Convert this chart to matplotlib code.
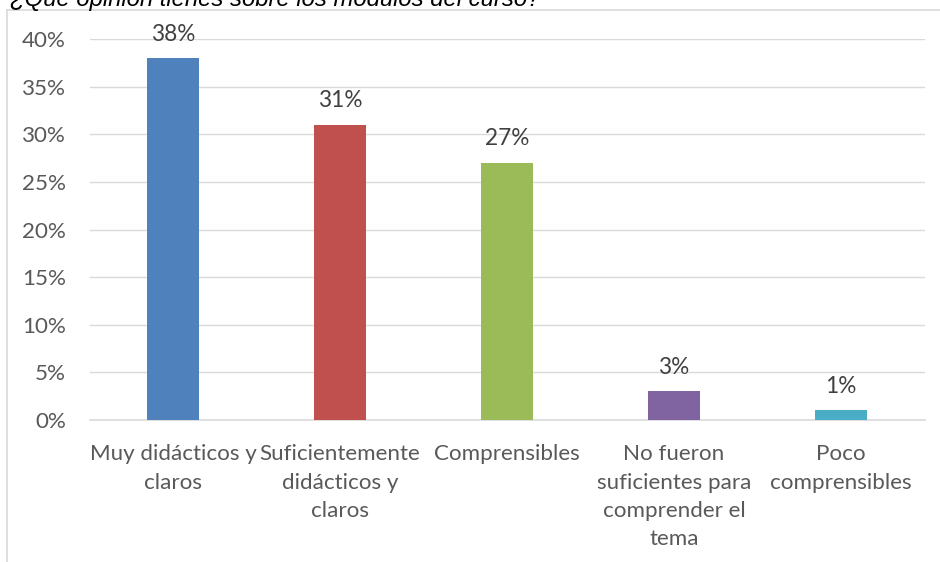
import matplotlib
matplotlib.use("Agg")
import matplotlib.pyplot as plt
from matplotlib.lines import Line2D

label_font = ['Lato', 'DejaVu Sans']

title = "¿Qué opinión tienes sobre los módulos del curso?"
categories = ["Muy didácticos y\nclaros",
              "Suficientemente\ndidácticos y\nclaros",
              "Comprensibles",
              "No fueron\nsuficientes para\ncomprender el\ntema",
              "Poco\ncomprensibles"]
values = [38, 31, 27, 3, 1]
colors = ["#4F81BD", "#C0504D", "#9BBB59", "#8064A2", "#4BACC6"]
yticks = [0, 5, 10, 15, 20, 25, 30, 35, 40]

W, H = 940, 562
fig = plt.figure(figsize=(W / 100, H / 100), dpi=100)

# outer chart frame (partially visible)
fig.add_artist(Line2D([7 / W, 7 / W], [0, 1 - 10 / H], color="#d9d9d9", lw=1.2,
                      transform=fig.transFigure))
fig.add_artist(Line2D([7 / W, 1], [1 - 10 / H, 1 - 10 / H], color="#d9d9d9", lw=1.2,
                      transform=fig.transFigure))

# clipped title
fig.text(10 / W, 1 - 6 / H, title, fontsize=17.2, style="italic",
         family=["Liberation Sans", "DejaVu Sans"], color="#000000",
         ha="left", va="baseline")

ax = fig.add_axes([89.5 / W, 142 / H, 835 / W, 381 / H])
x = list(range(len(categories)))
ax.bar(x, values, width=0.315, color=colors, zorder=3)
ax.set_xlim(-0.5, len(categories) - 0.5)
ax.set_ylim(0, 40)
ax.set_yticks(yticks)
ax.set_yticklabels([f"{v}%" for v in yticks])
ax.set_xticks(x)
ax.set_xticklabels(categories, linespacing=1.52)
for lab in ax.get_xticklabels() + ax.get_yticklabels():
    lab.set_family(label_font)
    lab.set_fontsize(16.1)
    lab.set_color("#595959")
ax.tick_params(axis="both", length=0)
ax.tick_params(axis="y", pad=17)
ax.tick_params(axis="x", pad=17.5)
ax.yaxis.grid(True, color="#d9d9d9", lw=1.0, zorder=0)
for s in ["top", "right", "left"]:
    ax.spines[s].set_visible(False)
ax.spines["bottom"].set_color("#d9d9d9")
ax.spines["bottom"].set_linewidth(1.2)

for xi, v in zip(x, values):
    ax.annotate(f"{v}%", (xi, v), xytext=(0, 12.5), textcoords="offset points",
                ha="center", va="baseline", fontsize=16.3, color="#404040",
                family=label_font)

fig.savefig("out.png", dpi=100)
